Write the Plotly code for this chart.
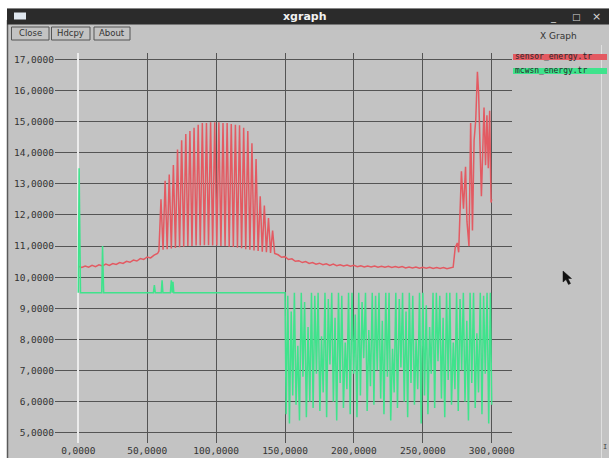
import plotly.graph_objects as go

# ---- sensor_energy.tr : remaining energy of the plain sensor network ----
sensor_time = [
    0, 2.5, 5, 7.5, 10, 12.5, 15, 17.5, 20, 22.5, 25, 27.5, 30, 32.5, 35, 37.5,
    40, 42.5, 45, 47.5, 50, 52.5, 55, 57.5,
    58.5, 60, 61.5, 63, 64.5, 66, 67.5, 69, 70.5, 72, 73.5, 75, 76.5, 78, 79.5,
    81, 82.5, 84, 85.5, 87, 88.5, 90, 91.5, 93, 94.5, 96, 97.5, 99, 100.5, 102,
    103.5, 105, 106.5, 108, 109.5, 111, 112.5, 114, 115.5, 117, 118.5, 120,
    121.5, 123, 124.5, 126, 127.5, 129, 130.5, 132, 133.5, 135, 136.5, 138,
    139.5, 141, 142.5,
    145, 147.5, 150, 152.5, 155, 157.5, 160, 162.5, 165, 167.5, 170, 172.5,
    175, 177.5, 180, 182.5, 185, 187.5, 190, 192.5, 195, 197.5, 200, 202.5,
    205, 207.5, 210, 212.5, 215, 217.5, 220, 222.5, 225, 227.5, 230, 232.5,
    235, 237.5, 240, 242.5, 245, 247.5, 250, 252.5, 255, 257.5, 260, 262.5,
    265, 267.5, 270,
    272, 273.5, 275, 276, 277, 278, 279.5, 281, 282, 283.5, 284.7, 286, 287.2,
    288.4, 289.6, 290.5, 291.5, 292.5, 294.4, 295.5, 296.5, 297.5, 298.5,
    299.5, 300,
]
sensor_energy = [
    10.35, 10.31, 10.36, 10.32, 10.38, 10.34, 10.40, 10.36, 10.42, 10.38,
    10.44, 10.41, 10.47, 10.44, 10.51, 10.48, 10.55, 10.52, 10.60, 10.57,
    10.65, 10.62, 10.71, 10.76,
    10.84, 12.5, 10.88, 13.1, 10.90, 13.3, 10.92, 13.6, 10.94, 14.1, 10.96,
    14.4, 10.98, 14.6, 11.00, 14.7, 11.00, 14.8, 11.02, 14.9, 11.02, 14.95,
    11.03, 14.95, 11.03, 14.98, 11.02, 14.98, 11.02, 14.98, 11.00, 14.95,
    11.00, 14.95, 10.98, 14.92, 10.97, 14.9, 10.95, 14.88, 10.93, 14.8, 10.90,
    14.7, 10.88, 14.3, 10.86, 13.8, 10.84, 12.6, 10.82, 12.3, 10.80, 11.9,
    10.78, 11.5, 10.76,
    10.72, 10.64, 10.66, 10.57, 10.59, 10.51, 10.53, 10.47, 10.50, 10.44,
    10.47, 10.42, 10.45, 10.40, 10.43, 10.38, 10.42, 10.37, 10.40, 10.36,
    10.39, 10.35, 10.38, 10.34, 10.37, 10.33, 10.36, 10.33, 10.36, 10.32,
    10.35, 10.32, 10.35, 10.31, 10.34, 10.31, 10.34, 10.30, 10.33, 10.30,
    10.33, 10.29, 10.32, 10.29, 10.32, 10.28, 10.31, 10.28, 10.31, 10.27,
    10.30,
    10.32, 10.95, 11.1, 10.8, 12.1, 13.4, 12.2, 13.55, 11.8, 11.0, 14.95,
    11.5, 14.4, 15.05, 16.6, 15.9, 14.2, 12.6, 15.45, 13.6, 15.2, 13.5,
    15.35, 12.4, 12.5,
]

# ---- mcwsn_energy.tr : remaining energy with the MCWSN scheme ----
mcwsn_time = [
    0, 0.6, 1.6, 17.0, 17.6, 18.4, 54.5, 55.2, 55.9, 60.2, 60.8, 61.4, 66.8,
    67.5, 68.2, 68.7, 69.3, 149.5,
    150.0, 150.8, 152.0, 153.2, 154.5, 155.6, 156.8, 158.0, 159.3, 160.5,
    161.8, 163.0, 164.2, 165.5, 166.7, 168.0, 169.2, 170.4, 171.6, 172.8,
    174.0, 175.3, 176.5, 177.7, 179.0, 180.2, 181.4, 182.6, 183.9, 185.1,
    186.3, 187.5, 188.8, 190.0, 191.2, 192.4, 193.7, 194.9, 196.1, 197.3,
    198.6, 199.8, 201.0, 202.2, 203.5, 204.7, 205.9, 207.1, 208.4, 209.6,
    210.8, 212.0, 213.3, 214.5, 215.7, 216.9, 218.2, 219.4, 220.6, 221.8,
    223.1, 224.3, 225.5, 226.7, 228.0, 229.2, 230.4, 231.6, 232.9, 234.1,
    235.3, 236.5, 237.8, 239.0, 240.2, 241.4, 242.7, 243.9, 245.1, 246.3,
    247.6, 248.8, 250.0, 251.2, 252.5, 253.7, 254.9, 256.1, 257.4, 258.6,
    259.8, 261.0, 262.3, 263.5, 264.7, 265.9, 267.2, 268.4, 269.6, 270.8,
    272.1, 273.3, 274.5, 275.7, 277.0, 278.2, 279.4, 280.6, 281.9, 283.1,
    284.3, 285.5, 286.8, 288.0, 289.2, 290.4, 291.7, 292.9, 294.1, 295.3,
    296.6, 297.8, 299.0, 300.0,
]
mcwsn_energy = [
    9.5, 13.5, 9.5, 9.5, 11.0, 9.5, 9.5, 9.75, 9.5, 9.5, 9.9, 9.5, 9.5,
    9.9, 9.5, 9.85, 9.5, 9.5,
    9.5, 5.6, 9.4, 5.3, 8.9, 6.2, 9.5, 5.9, 7.8, 5.4,
    9.5, 6.8, 9.2, 5.5, 8.4, 6.0, 9.5, 5.8, 9.4, 6.9,
    9.5, 5.7, 8.1, 6.3, 9.5, 5.5, 9.3, 7.2, 9.5, 6.0,
    8.7, 5.4, 9.5, 6.6, 9.4, 5.8, 7.9, 6.4, 9.5, 5.6,
    9.5, 6.9, 8.8, 5.5, 9.5, 6.2, 9.2, 7.4, 9.5, 5.7,
    8.3, 6.5, 9.5, 5.9, 9.4, 7.0, 9.5, 6.1, 8.6, 5.6,
    9.5, 6.8, 9.5, 5.4, 7.7, 6.3, 9.5, 5.8, 9.3, 7.1,
    9.5, 6.0, 8.9, 5.5, 9.5, 6.6, 9.4, 5.9, 8.0, 6.4,
    9.5, 5.3, 9.5, 6.2, 9.1, 5.6, 8.4, 6.9, 9.5, 5.8,
    9.5, 7.3, 9.4, 6.1, 8.7, 5.5, 9.5, 6.7, 9.5, 5.9,
    7.9, 6.4, 9.5, 5.7, 9.3, 7.0, 9.5, 6.0, 8.6, 5.4,
    9.5, 6.6, 9.5, 5.8, 8.2, 6.3, 9.5, 5.6, 9.4, 6.9,
    9.5, 5.3, 9.5, 5.9,
]

x_ticks = [0, 50, 100, 150, 200, 250, 300]
x_tick_text = ["0,0000", "50,0000", "100,0000", "150,0000", "200,0000",
               "250,0000", "300,0000"]
y_ticks = [5, 6, 7, 8, 9, 10, 11, 12, 13, 14, 15, 16, 17]
y_tick_text = ["5,0000", "6,0000", "7,0000", "8,0000", "9,0000", "10,0000",
               "11,0000", "12,0000", "13,0000", "14,0000", "15,0000",
               "16,0000", "17,0000"]

legend_names = ["sensor_energy.tr", "mcwsn_energy.tr"]

RED = "#e35a62"
GREEN = "#3fe38c"
BODY = "#c3c3c3"
GRID = "#545454"
TEXT = "#333333"
MONO = "DejaVu Sans Mono"
SANS = "DejaVu Sans"

W, H = 609, 458
L, R, T, B = 55, 512, 53, 443   # plotting region in window pixels


def px(x):
    return (x - L) / (R - L)


def py(y):
    return (B - y) / (B - T)


fig = go.Figure()
fig.add_trace(go.Scatter(x=sensor_time, y=sensor_energy, mode="lines",
                         line=dict(color=RED, width=1.5), hoverinfo="skip",
                         name=legend_names[0]))
fig.add_trace(go.Scatter(x=mcwsn_time, y=mcwsn_energy, mode="lines",
                         line=dict(color=GREEN, width=1.5), hoverinfo="skip",
                         name=legend_names[1]))

shapes = []


def rect(x0, y0, x1, y1, fill=None, line=None, lw=0):
    shapes.append(dict(type="rect", xref="paper", yref="paper",
                       x0=px(x0), x1=px(x1), y0=py(y0), y1=py(y1),
                       fillcolor=fill if fill else "rgba(0,0,0,0)",
                       line=dict(color=line if line else "rgba(0,0,0,0)",
                                 width=lw), layer="above"))


def seg(x0, y0, x1, y1, color, lw=1):
    shapes.append(dict(type="line", xref="paper", yref="paper",
                       x0=px(x0), x1=px(x1), y0=py(y0), y1=py(y1),
                       line=dict(color=color, width=lw), layer="above"))


# desktop margin and window frame
rect(0, 0, W, 8.5, fill="#ffffff")
rect(0, 0, 7, H, fill="#ffffff")
seg(7.5, 20, 7.5, H, "#5a5a5a", 1.5)
rect(7, 8.5, W, 24.5, fill="#2b2b2b")
rect(14, 12.5, 26, 19.5, fill="#dfe7ef")
seg(601.5, 45, 601.5, H, "#dedede", 1)

# buttons
for x0, x1 in [(11.5, 49), (51.5, 90), (94, 130)]:
    rect(x0, 27, x1, 40, line="#555555", lw=1)

# legend swatches (the names are printed on top of them)
seg(513, 57, 607, 57, RED, 6)
seg(513, 71, 607, 71, GREEN, 6)

# mouse pointer (arrow pointing up-left)
arrow = [(563, 271), (563, 282), (566, 279.5), (568.5, 284.5), (570.5, 283.5),
         (568, 278.5), (571.5, 278.5)]
path = "M " + " L ".join("{} {}".format(px(a), py(b)) for a, b in arrow) + " Z"
shapes.append(dict(type="path", xref="paper", yref="paper", layer="above",
                   path=path, fillcolor="#111111",
                   line=dict(color="#111111", width=0.5)))

annotations = []


def label(x, y, text, size=9, color=TEXT, family=SANS, anchor="center"):
    annotations.append(dict(xref="paper", yref="paper", x=px(x), y=py(y),
                            text=text, showarrow=False, xanchor=anchor,
                            yanchor="middle",
                            font=dict(size=size, color=color, family=family)))


label(305, 16.5, "<b>xgraph</b>", size=11, color="#f2f2f2")
label(553, 17, "_", size=10, color="#d8d8d8")
label(576, 16.5, "□", size=9, color="#d8d8d8")
label(596.5, 16.5, "×", size=11, color="#d8d8d8")
label(30, 33.5, "Close", size=8.5)
label(70.5, 33.5, "Hdcpy", size=8.5)
label(112, 33.5, "About", size=8.5)
label(558, 36.5, "X Graph", size=9)
label(513, 57, legend_names[0], size=8, color="#2a2a2a", family=MONO,
      anchor="left")
label(513, 71, legend_names[1], size=8, color="#2a2a2a", family=MONO,
      anchor="left")
label(605, 447, "I", size=7, color="#444444", family=MONO)

fig.update_layout(
    width=W, height=H,
    margin=dict(l=L, r=W - R, t=T, b=H - B, pad=0),
    paper_bgcolor=BODY, plot_bgcolor=BODY,
    showlegend=False,
    shapes=shapes, annotations=annotations,
    xaxis=dict(range=[-16.9, 314.7], tickvals=x_ticks, ticktext=x_tick_text,
               showgrid=True, gridcolor=GRID, gridwidth=1,
               zeroline=True, zerolinecolor="#ececec", zerolinewidth=2,
               showline=False, ticks="", automargin=False,
               tickfont=dict(family=MONO, size=9.5, color=TEXT)),
    yaxis=dict(range=[4.674, 17.202], tickvals=y_ticks, ticktext=y_tick_text,
               showgrid=True, gridcolor=GRID, gridwidth=1,
               zeroline=False, showline=False, ticks="", automargin=False,
               ticklabelstandoff=0,
               tickfont=dict(family=MONO, size=9.5, color=TEXT)),
)

fig.write_html("out.html")
